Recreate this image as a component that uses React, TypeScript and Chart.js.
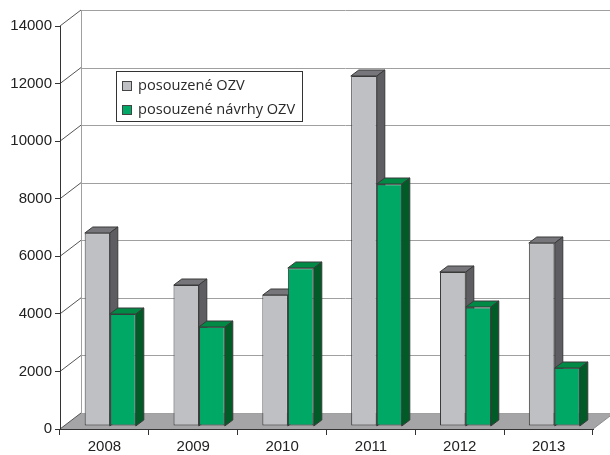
import { useEffect, useRef } from 'react';
import { Chart, registerables } from 'chart.js';

Chart.register(...registerables);

const categories = ['2008', '2009', '2010', '2011', '2012', '2013'];
const seriesLabels = ['posouzené OZV', 'posouzené návrhy OZV'];
const posouzeneOZV = [6700, 4900, 4560, 12160, 5350, 6350];
const posouzeneNavrhyOZV = [3890, 3450, 5480, 8400, 4120, 2020];
const yMin = 0;
const yMax = 14000;
const yStep = 2000;

const frontColors = ['#bfc0c4', '#00a866'];
const topColors = ['#77777b', '#008a46'];
const sideColors = ['#5e5e62', '#005b27'];

const WALL_DX = 21;
const WALL_DY = 16;
const BAR_DX = 8;
const BAR_DY = 6;
const SHIFT_X = 5.8;
const SHIFT_Y = -3;
const OUTLINE = '#3a3a3a';

const threeD = {
  id: 'threeD',
  beforeDraw(chart: any) {
    const { ctx, chartArea: a, scales } = chart;
    const y = scales.y;
    ctx.save();
    ctx.fillStyle = '#ffffff';
    ctx.fillRect(0, 0, chart.width, chart.height);
    const y0 = y.getPixelForValue(0);
    // floor
    ctx.fillStyle = '#a5a5a8';
    ctx.beginPath();
    ctx.moveTo(a.left, y0);
    ctx.lineTo(a.right, y0);
    ctx.lineTo(a.right + WALL_DX, y0 - WALL_DY);
    ctx.lineTo(a.left + WALL_DX, y0 - WALL_DY);
    ctx.closePath();
    ctx.fill();
    ctx.strokeStyle = '#8c8c8f';
    ctx.lineWidth = 1;
    ctx.beginPath();
    ctx.moveTo(a.right, y0);
    ctx.lineTo(a.right + WALL_DX, y0 - WALL_DY);
    ctx.stroke();
    // back wall grid lines
    ctx.strokeStyle = '#a0a0a0';
    y.ticks.forEach((t: any) => {
      const py = Math.round(y.getPixelForValue(t.value) - WALL_DY) + 0.5;
      ctx.beginPath();
      ctx.moveTo(a.left + WALL_DX, py);
      ctx.lineTo(chart.width, py);
      ctx.stroke();
    });
    const wx = Math.round(a.left + WALL_DX) + 0.5;
    ctx.beginPath();
    ctx.moveTo(wx, y.getPixelForValue(yMax) - WALL_DY);
    ctx.lineTo(wx, y0 - WALL_DY);
    ctx.stroke();
    // diagonals
    ctx.strokeStyle = '#555555';
    y.ticks.forEach((t: any) => {
      const py = y.getPixelForValue(t.value);
      ctx.beginPath();
      ctx.moveTo(a.left, py);
      ctx.lineTo(a.left + WALL_DX, py - WALL_DY);
      ctx.stroke();
    });
    ctx.restore();
  },
  beforeDatasetDraw() {
    return false;
  },
  afterDatasetsDraw(chart: any) {
    const { ctx } = chart;
    ctx.save();
    ctx.translate(SHIFT_X, SHIFT_Y);
    chart.data.datasets.forEach((_ds: any, di: number) => {
      const meta = chart.getDatasetMeta(di);
      meta.data.forEach((el: any) => {
        el.draw(ctx);
        const { x, y, base, width } = el;
        const l = Math.round(x - width / 2);
        const r = Math.round(x + width / 2);
        const t = Math.round(y);
        const b = Math.round(base);
        ctx.lineWidth = 1;
        ctx.strokeStyle = OUTLINE;
        // top
        ctx.fillStyle = topColors[di];
        ctx.beginPath();
        ctx.moveTo(l, t);
        ctx.lineTo(r, t);
        ctx.lineTo(r + BAR_DX, t - BAR_DY);
        ctx.lineTo(l + BAR_DX, t - BAR_DY);
        ctx.closePath();
        ctx.fill();
        ctx.stroke();
        // side
        ctx.fillStyle = sideColors[di];
        ctx.beginPath();
        ctx.moveTo(r, t);
        ctx.lineTo(r + BAR_DX, t - BAR_DY);
        ctx.lineTo(r + BAR_DX, b - BAR_DY);
        ctx.lineTo(r, b);
        ctx.closePath();
        ctx.fill();
        ctx.stroke();
      });
    });
    ctx.restore();
  },
  afterDraw(chart: any) {
    const { ctx } = chart;
    ctx.save();
    const bx = 116.5, by = 71.5, bw = 186, bh = 50;
    ctx.fillStyle = '#ffffff';
    ctx.fillRect(bx, by, bw, bh);
    ctx.strokeStyle = '#333333';
    ctx.lineWidth = 1;
    ctx.strokeRect(bx, by, bw, bh);
    ctx.font = '14.6px "Open Sans", sans-serif';
    ctx.textBaseline = 'middle';
    ctx.textAlign = 'left';
    const rows = [86, 110];
    chart.data.datasets.forEach((ds: any, i: number) => {
      const cy = rows[i];
      ctx.fillStyle = ds.backgroundColor;
      ctx.fillRect(122.5, cy - 4.5, 9, 9);
      ctx.strokeStyle = '#444444';
      ctx.strokeRect(122.5, cy - 4.5, 9, 9);
      ctx.fillStyle = '#2a2a2a';
      ctx.fillText(ds.label, 138, cy);
    });
    ctx.restore();
  },
};

export default function App() {
  const ref = useRef<HTMLCanvasElement>(null);
  useEffect(() => {
    if (!ref.current) return;
    const chart = new Chart(ref.current, {
      type: 'bar',
      data: {
        labels: categories,
        datasets: [
          {
            label: seriesLabels[0],
            data: posouzeneOZV,
            backgroundColor: frontColors[0],
            borderColor: OUTLINE,
            borderWidth: 1,
            borderSkipped: false,
          },
          {
            label: seriesLabels[1],
            data: posouzeneNavrhyOZV,
            backgroundColor: frontColors[1],
            borderColor: OUTLINE,
            borderWidth: 1,
            borderSkipped: false,
          },
        ],
      },
      options: {
        responsive: false,
        animation: false,
        devicePixelRatio: 1,
        categoryPercentage: 0.575,
        barPercentage: 1,
        layout: { padding: { top: 26, right: 17, left: 0, bottom: 0 } },
        plugins: { legend: { display: false }, tooltip: { enabled: false } },
        scales: {
          x: {
            afterFit: (s: any) => {
              s.height = 26;
            },
            grid: {
              display: true,
              drawOnChartArea: false,
              drawTicks: true,
              tickLength: 6,
              color: '#333333',
              offset: true,
            },
            border: { display: true, color: '#333333' },
            ticks: {
              color: '#222222',
              padding: 3,
              font: { family: '"Liberation Sans", Arial, sans-serif', size: 15 },
            },
          },
          y: {
            min: yMin,
            max: yMax,
            afterFit: (s: any) => {
              s.width = 60;
            },
            grid: {
              display: true,
              drawOnChartArea: false,
              drawTicks: true,
              tickLength: 5,
              color: '#333333',
            },
            border: { display: true, color: '#333333' },
            ticks: {
              stepSize: yStep,
              color: '#222222',
              padding: 3,
              font: { family: '"Liberation Sans", Arial, sans-serif', size: 15 },
              callback: (v: any) => String(v),
            },
          },
        },
      },
      plugins: [threeD],
    });
    return () => chart.destroy();
  }, []);
  return (
    <div style={{ position: 'fixed', left: 0, top: 0, width: 610, height: 455, background: '#fff' }}>
      <canvas ref={ref} width={610} height={455} style={{ display: 'block' }} />
    </div>
  );
}
